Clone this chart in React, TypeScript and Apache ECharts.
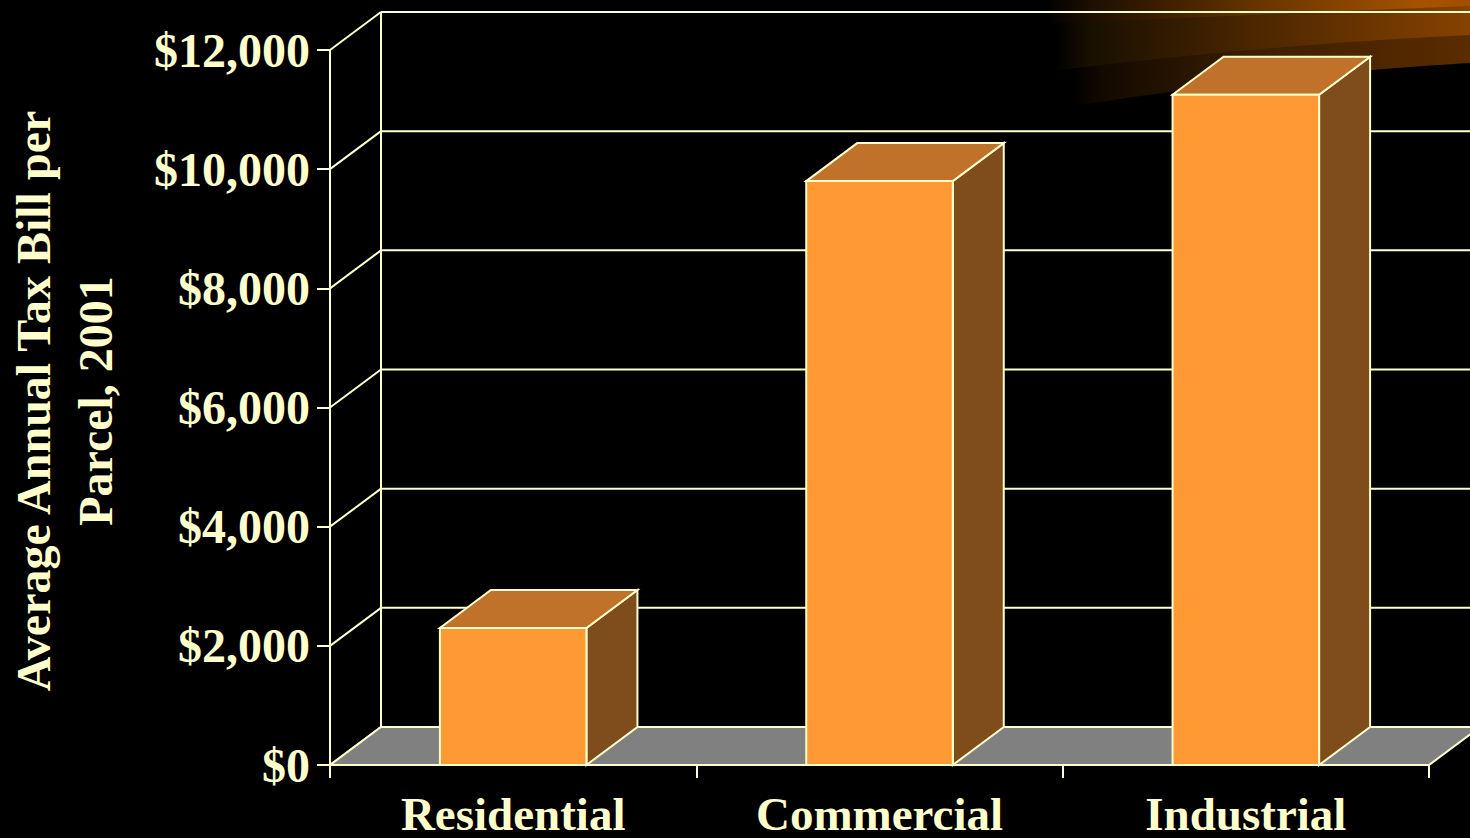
import React, { useEffect, useRef } from "react";
import * as echarts from "echarts";

const categories = ["Residential", "Commercial", "Industrial"];
const taxBill = [2300, 9800, 11250];
const yTicks = [0, 2000, 4000, 6000, 8000, 10000, 12000];
const yTitle = "Average Annual Tax Bill per\nParcel, 2001";

const CREAM = "#FFFFCC";
const DX = 51;
const DY = -38;

function curve(p: number[][], leftTopX: number) {
  const [a, b, c] = p;
  const pts: number[][] = [[leftTopX, -5]];
  const L = (x: number) => {
    const l0 = ((x - b[0]) * (x - c[0])) / ((a[0] - b[0]) * (a[0] - c[0]));
    const l1 = ((x - a[0]) * (x - c[0])) / ((b[0] - a[0]) * (b[0] - c[0]));
    const l2 = ((x - a[0]) * (x - b[0])) / ((c[0] - a[0]) * (c[0] - b[0]));
    return a[1] * l0 + b[1] * l1 + c[1] * l2;
  };
  pts.push([leftTopX, L(a[0])]);
  for (let x = a[0]; x <= 1490; x += 10) pts.push([x, L(x)]);
  pts.push([1490, -5]);
  return pts;
}

function grad(stops: [number, string][]) {
  return new echarts.graphic.LinearGradient(
    0, 0, 1, 0,
    stops.map(([offset, color]) => ({ offset, color }))
  );
}

export default function App() {
  const ref = useRef<HTMLDivElement>(null);
  useEffect(() => {
    if (!ref.current) return;
    const chart = echarts.init(ref.current, null, { renderer: "svg" });
    const font = "'Liberation Serif', 'Times New Roman', serif";
    chart.setOption({
      animation: false,
      backgroundColor: "#000000",
      graphic: [
        {
          type: "polygon",
          z: 0,
          shape: { points: curve([[1080, 105], [1250, 82], [1470, 63]], 1072) },
          style: { fill: grad([[0, "#000000"], [0.08, "#140a00"], [0.45, "#3c1f00"], [1, "#5e2d00"]]) },
        },
        {
          type: "polygon",
          z: 0,
          shape: { points: curve([[1060, 70], [1250, 50], [1470, 35]], 1055) },
          style: { fill: grad([[0, "#000000"], [0.08, "#181000"], [0.45, "#4a2600"], [1, "#8c4500"]]) },
        },
        {
          type: "polygon",
          z: 0,
          shape: { points: curve([[1045, 24], [1250, 15], [1470, 6]], 1045) },
          style: { fill: grad([[0, "#000000"], [0.1, "#1c0e00"], [0.5, "#6c3600"], [0.85, "#a55300"], [1, "#9c4e00"]]) },
        },
        {
          type: "text",
          z: 5,
          x: 64,
          y: 401,
          rotation: Math.PI / 2,
          style: {
            text: yTitle,
            fill: CREAM,
            font: "bold 48px 'Liberation Serif', 'Times New Roman', serif",
            align: "center",
            verticalAlign: "middle",
            lineHeight: 62,
          },
        },
      ],
      grid: { left: 330, right: 41, top: 50, bottom: 73, containLabel: false, outerBoundsMode: "none" },
      xAxis: {
        type: "category",
        data: categories,
        axisLine: { show: true, lineStyle: { color: CREAM, width: 2 } },
        axisTick: { show: true, length: 13, alignWithLabel: false, lineStyle: { color: CREAM, width: 2 } },
        axisLabel: {
          color: CREAM,
          fontFamily: font,
          fontWeight: "bold",
          fontSize: 47,
          margin: 25,
        },
        splitLine: { show: false },
      },
      yAxis: {
        type: "value",
        min: 0,
        max: 12000,
        interval: 2000,
        axisLine: { show: true, lineStyle: { color: CREAM, width: 2 } },
        axisTick: { show: true, length: 13, lineStyle: { color: CREAM, width: 2 } },
        axisLabel: {
          color: CREAM,
          fontFamily: font,
          fontWeight: "bold",
          fontSize: 48,
          margin: 20,
          formatter: (v: number) => "$" + v.toLocaleString("en-US"),
        },
        splitLine: { show: false },
      },
      series: [
        {
          type: "custom",
          z: 1,
          data: yTicks.map((v) => [0, v]),
          renderItem: (params: any, api: any) => {
            const cs = params.coordSys;
            const v = api.value(1);
            const y = api.coord([0, v])[1];
            const x0 = cs.x;
            const x1 = cs.x + cs.width;
            const children: any[] = [
              {
                type: "line",
                shape: { x1: x0, y1: y, x2: x0 + DX, y2: y + DY },
                style: { stroke: CREAM, lineWidth: 2 },
              },
              {
                type: "line",
                shape: { x1: x0 + DX, y1: y + DY, x2: x1 + DX, y2: y + DY },
                style: { stroke: CREAM, lineWidth: 2 },
              },
            ];
            if (v === 0) {
              children.push({
                type: "polygon",
                shape: { points: [[x0, y], [x1, y], [x1 + DX, y + DY], [x0 + DX, y + DY]] },
                style: { fill: "#808080", stroke: CREAM, lineWidth: 2, lineJoin: "miter" },
              });
              const yt = api.coord([0, 12000])[1];
              children.push({
                type: "line",
                shape: { x1: x0 + DX, y1: yt + DY, x2: x0 + DX, y2: y + DY },
                style: { stroke: CREAM, lineWidth: 2 },
              });
            }
            return { type: "group", children };
          },
        },
        {
          type: "custom",
          z: 3,
          data: taxBill.map((v, i) => [i, v]),
          renderItem: (params: any, api: any) => {
            const top = api.coord([api.value(0), api.value(1)]);
            const base = api.coord([api.value(0), 0]);
            const bw = api.size([1, 0])[0] * 0.4;
            const l = top[0] - bw / 2;
            const r = top[0] + bw / 2;
            const ty = top[1];
            const by = base[1];
            const st = { stroke: CREAM, lineWidth: 2, lineJoin: "miter" };
            return {
              type: "group",
              children: [
                {
                  type: "polygon",
                  shape: { points: [[r, ty], [r + DX, ty + DY], [r + DX, by + DY], [r, by]] },
                  style: { fill: "#7F4D1B", ...st },
                },
                {
                  type: "polygon",
                  shape: { points: [[l, ty], [r, ty], [r + DX, ty + DY], [l + DX, ty + DY]] },
                  style: { fill: "#C0722A", ...st },
                },
                {
                  type: "rect",
                  shape: { x: l, y: ty, width: bw, height: by - ty },
                  style: { fill: "#FF9933", ...st },
                },
              ],
            };
          },
        },
      ],
    });
    return () => chart.dispose();
  }, []);
  return (
    <div
      ref={ref}
      style={{ position: "fixed", left: 0, top: 0, width: 1470, height: 838, background: "#000" }}
    />
  );
}
